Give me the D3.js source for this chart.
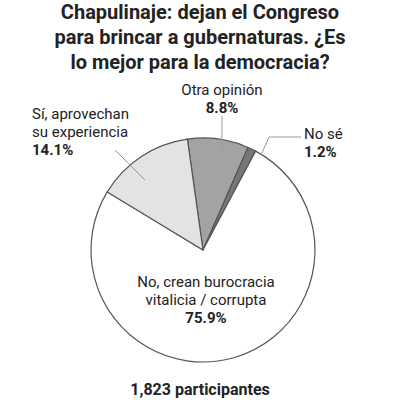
<!DOCTYPE html>
<html><head><meta charset="utf-8">
<script src="https://cdn.jsdelivr.net/npm/d3@7"></script>
<style>body{margin:0;background:#fff}text{font-family:"Liberation Sans Narrow","Roboto","Liberation Sans",sans-serif;fill:#222}</style>
</head><body>
<svg id="c" width="400" height="400"></svg>
<script>
// data
var categories = ["Otra opinión", "No sé", "No, crean burocracia vitalicia / corrupta", "Sí, aprovechan su experiencia"];
var values = [8.8, 1.2, 75.9, 14.1];
var colors = ["#a3a3a3", "#777", "#ffffff", "#e3e3e3"];
var titleLines = ["Chapulinaje: dejan el Congreso", "para brincar a gubernaturas. ¿Es", "lo mejor para la democracia?"];

var svg = d3.select("#c");
svg.selectAll(".t").data(titleLines).enter().append("text")
  .attr("x", 200).attr("y", function(d,i){return 19 + i*25;})
  .attr("text-anchor","middle").style("font-size","20px").style("font-weight","bold").text(function(d){return d;});

var cx = 203, cy = 250, r = 112;
var start = -8 * Math.PI/180;
var pie = d3.pie().sort(null).startAngle(start).endAngle(start + 2*Math.PI);
var arc = d3.arc().innerRadius(0).outerRadius(r);
var g = svg.append("g").attr("transform","translate("+cx+","+cy+")");
g.selectAll("path").data(pie(values)).enter().append("path")
  .attr("d", arc).attr("fill", function(d,i){return colors[i];})
  .attr("stroke","#555").attr("stroke-width",1.2);

// leader lines
var lines = [[[19,-134],[19,-100]], [[98,-113],[66,-113],[58,-95]], [[-88,-100],[-58,-70]]];
lines.forEach(function(l){
  g.append("path").attr("d", d3.line()(l)).attr("fill","none").attr("stroke","#999").attr("stroke-width",1);
});

function label(x, y, lines, anchor){
  var t = svg.append("text").attr("text-anchor", anchor).style("font-size","15px");
  lines.forEach(function(s, i){
    t.append("tspan").attr("x", x).attr("y", y + i*18).text(s)
      .style("font-weight", i == lines.length-1 ? "bold" : "normal");
  });
}
label(222, 95, ["Otra opinión", values[0].toFixed(1)+"%"], "middle");
label(304, 139, ["No sé", values[1].toFixed(1)+"%"], "start");
label(32, 119, ["Sí, aprovechan", "su experiencia", values[3].toFixed(1)+"%"], "start");
label(206, 287, ["No, crean burocracia", "vitalicia / corrupta", values[2].toFixed(1)+"%"], "middle");

svg.append("text").attr("x",200).attr("y",395).attr("text-anchor","middle")
  .style("font-size","16px").style("font-weight","bold").text("1,823 participantes");
</script>
</body></html>
